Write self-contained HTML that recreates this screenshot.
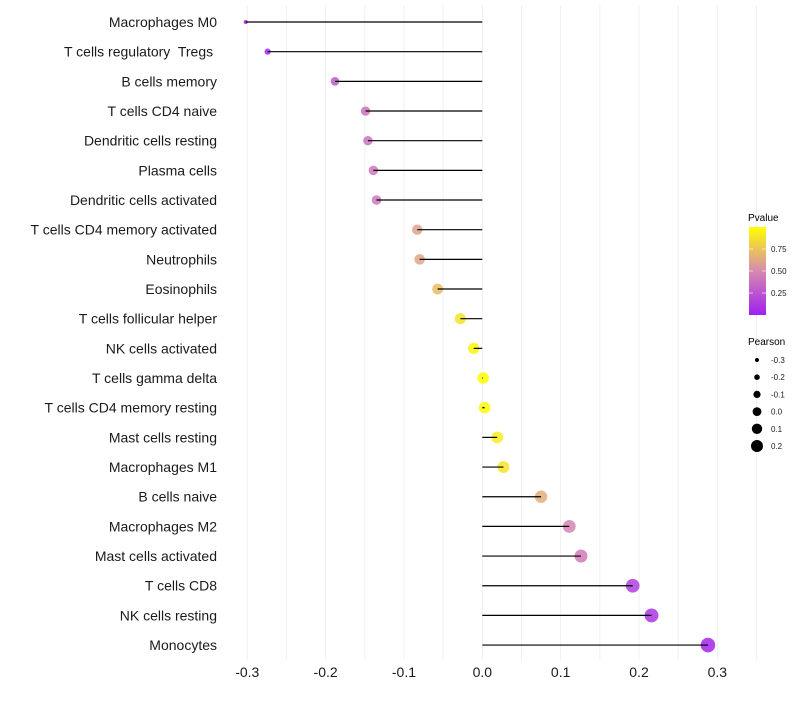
<!DOCTYPE html>
<html><head><meta charset="utf-8"><style>
body{margin:0;background:#fff}
text{font-family:"Liberation Sans",sans-serif;white-space:pre}
</style></head><body>
<svg id="chart" width="800" height="700" xmlns="http://www.w3.org/2000/svg" xml:space="preserve" style="white-space:pre">
<defs><linearGradient id="pg" x1="0" y1="1" x2="0" y2="0">
<stop offset="0" stop-color="#A020F0"/><stop offset="0.5" stop-color="#D68AB0"/><stop offset="1" stop-color="#FFFF00"/>
</linearGradient></defs>
<g id="grid"></g>
<g id="ylabels"></g>
<g id="marks"></g>
<g id="xlabels"></g>
<g>
<text x="748" y="221" font-size="10">Pvalue</text>
<rect x="749" y="227" width="17" height="88" fill="url(#pg)"/>
<g id="cbticks"></g>
</g>
<g id="sizeleg">
<text x="748" y="345" font-size="10">Pearson</text>
</g>
</svg>
<script>
const categories=["Macrophages M0","T cells regulatory  Tregs ","B cells memory","T cells CD4 naive","Dendritic cells resting","Plasma cells","Dendritic cells activated","T cells CD4 memory activated","Neutrophils","Eosinophils","T cells follicular helper","NK cells activated","T cells gamma delta","T cells CD4 memory resting","Mast cells resting","Macrophages M1","B cells naive","Macrophages M2","Mast cells activated","T cells CD8","NK cells resting","Monocytes"];
const pearson=[-0.302,-0.274,-0.188,-0.149,-0.146,-0.139,-0.135,-0.083,-0.080,-0.057,-0.028,-0.011,0.001,0.003,0.019,0.027,0.075,0.111,0.126,0.192,0.216,0.288];
const pvalue=[0.01,0.05,0.28,0.38,0.39,0.41,0.42,0.60,0.61,0.72,0.88,0.95,0.99,0.98,0.92,0.89,0.65,0.48,0.43,0.15,0.10,0.03];
const xTicks=[-0.3,-0.2,-0.1,0.0,0.1,0.2,0.3];
const xTickLabels=["-0.3","-0.2","-0.1","0.0","0.1","0.2","0.3"];
const pTicks=[0.25,0.50,0.75];
const sizeLegend=[-0.3,-0.2,-0.1,0.0,0.1,0.2];
const sizeLegendLabels=["-0.3","-0.2","-0.1","0.0","0.1","0.2"];

const NS="http://www.w3.org/2000/svg";
const x=v=>482.3+v*783.5;
const y=i=>22+i*29.67;
const r=v=>2+5.3*Math.sqrt(Math.max(0,(v+0.3)/0.59));
const rl=v=>2+(v+0.3)*8;
function mix(a,b,t){return a.map((c,i)=>Math.round(c+(b[i]-c)*t));}
function color(p){const P=[160,32,240],M=[214,138,176],Y=[255,255,0];
 const c=p<0.5?mix(P,M,p/0.5):mix(M,Y,(p-0.5)/0.5);return `rgb(${c})`;}
function mk(t,a,parent){const e=document.createElementNS(NS,t);for(const k in a)e.setAttribute(k,a[k]);parent.appendChild(e);return e;}
const grid=document.getElementById('grid');
for(let v=-0.3;v<=0.351;v+=0.05){const g=mk('line',{x1:x(v),x2:x(v),y1:5,y2:660,stroke:'#f0f0f0','stroke-width':1},grid);

}
const yl=document.getElementById('ylabels'),mg=document.getElementById('marks');
categories.forEach((c,i)=>{
 const t=mk('text',{x:217,y:y(i)+5,'text-anchor':'end','font-size':14,fill:'#1a1a1a',style:'white-space:pre'},yl);t.textContent=c;
 
 
 const pt=mk('circle',{cx:x(pearson[i]),cy:y(i),r:r(pearson[i]),fill:color(pvalue[i]),'fill-opacity':0.85},mg);
 
 
 const ln=mk('line',{x1:x(0),x2:x(pearson[i]),y1:y(i),y2:y(i),stroke:'#000','stroke-width':1.2},mg);
 
 
});
const xl=document.getElementById('xlabels');
xTicks.forEach((v,i)=>{const t=mk('text',{x:x(v),y:677,'text-anchor':'middle','font-size':14,fill:'#1a1a1a'},xl);t.textContent=xTickLabels[i];

});
const cb=document.getElementById('cbticks');
pTicks.forEach(p=>{const yy=315-p*88;
 mk('line',{x1:749,x2:753,y1:yy,y2:yy,stroke:'#fff','stroke-opacity':0.6},cb);
 mk('line',{x1:762,x2:766,y1:yy,y2:yy,stroke:'#fff','stroke-opacity':0.6},cb);
 const t=mk('text',{x:771,y:yy+3,'font-size':8,fill:'#1a1a1a'},cb);t.textContent=p.toFixed(2);
 
 });
const sl=document.getElementById('sizeleg');
sizeLegend.forEach((v,i)=>{const yy=360+i*17.2;
 const c=mk('circle',{cx:757,cy:yy,r:rl(v),fill:'#000'},sl);
 
 
 const t=mk('text',{x:771,y:yy+3,'font-size':8,fill:'#1a1a1a'},sl);t.textContent=sizeLegendLabels[i];
 
 });
</script>
</body></html>
